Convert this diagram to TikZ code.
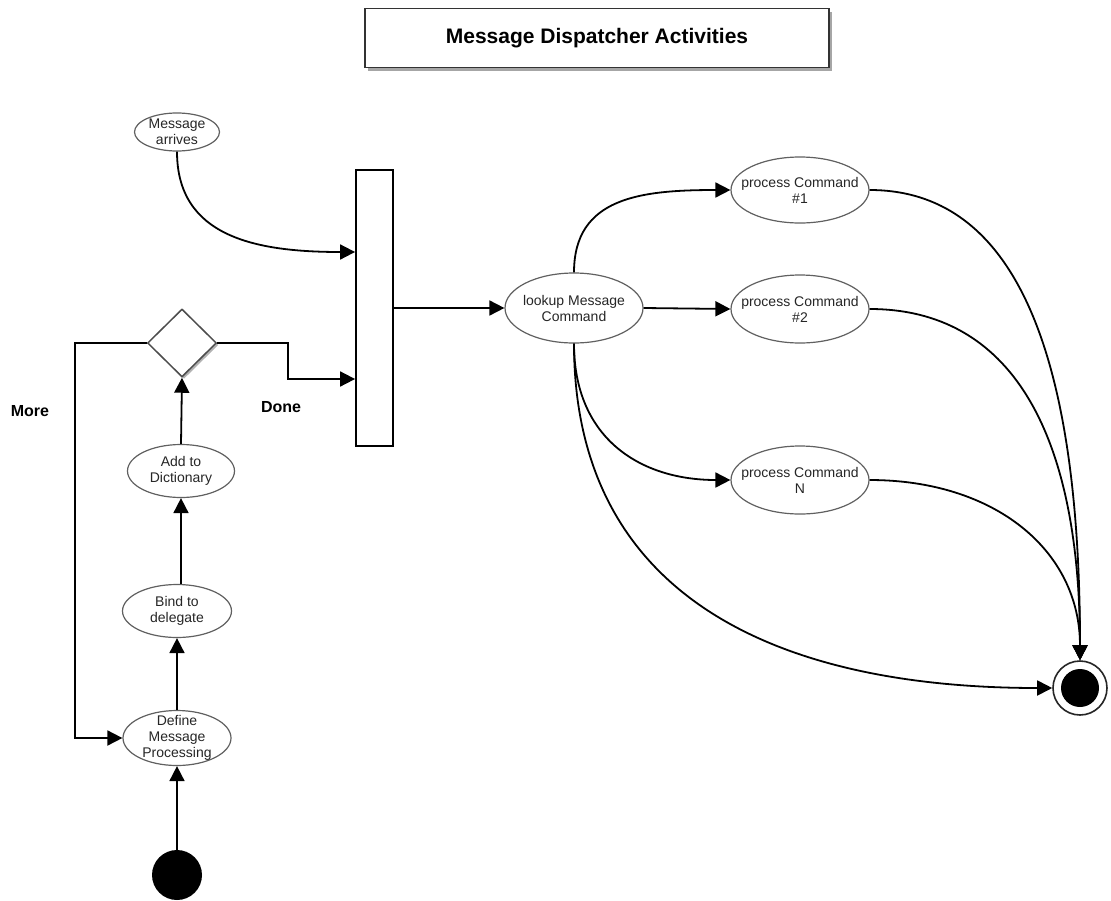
\documentclass[tikz,border=0pt]{standalone}
\usepackage{fontspec}
\setmainfont{Liberation Sans}
\usetikzlibrary{arrows.meta,shapes.geometric,shadows}
\begin{document}
\begin{tikzpicture}[x=1pt,y=-1pt,
  act/.style={ellipse, draw=gray!75!black, line width=1.2pt, fill=white, inner sep=0pt},
  txt/.style={font=\fontsize{14}{16}\selectfont, align=center, text=black!85},
  arr/.style={line width=1.8pt, -{Triangle[length=15pt,width=15pt]}},
  lbl/.style={font=\fontsize{16}{19}\selectfont\bfseries}]
\useasboundingbox (0,0) rectangle (1111,900);

\node[draw=black!80, line width=1.5pt, fill=white, minimum width=464pt, minimum height=59pt,
  drop shadow={shadow xshift=3pt,shadow yshift=-3pt,fill=gray!70,opacity=1},
  font=\fontsize{21}{25}\selectfont\bfseries] (title) at (597,38) {Message Dispatcher Activities};

\node[act, minimum width=85pt, minimum height=38pt, label={[txt]center:Message\\arrives}] (msg) at (177,132) {};
\node[draw, line width=1.8pt, fill=white, minimum width=37pt, minimum height=276pt, inner sep=0pt] (bar) at (374.5,308) {};
\node[diamond, draw=black!70, line width=1.5pt, fill=white, minimum width=69pt, minimum height=68pt, inner sep=0pt, aspect=1,
  drop shadow={shadow xshift=2pt,shadow yshift=-2pt,fill=gray!60,opacity=1}] (dia) at (182,343) {};

\node[act, minimum width=107pt, minimum height=53pt, label={[txt]center:Add to\\Dictionary}] (add) at (181,471) {};
\node[act, minimum width=109pt, minimum height=53pt, label={[txt]center:Bind to\\delegate}] (bind) at (177,611) {};
\node[act, minimum width=108pt, minimum height=55pt, label={[txt]center:Define\\Message\\Processing}] (def) at (177,738) {};
\node[circle, fill=black, minimum size=50pt, inner sep=0pt] (start) at (177,875) {};

\node[act, minimum width=138pt, minimum height=70pt, label={[txt]center:lookup Message\\Command}] (lookup) at (574,308) {};
\node[act, minimum width=138pt, minimum height=66pt, label={[txt]center:process Command\\\#1}] (p1) at (800,190) {};
\node[act, minimum width=138pt, minimum height=68pt, label={[txt]center:process Command\\\#2}] (p2) at (800,309) {};
\node[act, minimum width=138pt, minimum height=68pt, label={[txt]center:process Command\\N}] (pN) at (800,480) {};

\node[circle, draw=black!85, line width=1.6pt, fill=white, minimum size=54pt, inner sep=0pt] (end) at (1080,688) {};
\node[circle, fill=black, minimum size=38pt, inner sep=0pt] (endin) at (end) {};

\node[lbl] (more) at (30,411) {More};
\node[lbl] (done) at (281,407) {Done};

\draw[arr] (start) -- (def);
\draw[arr] (def) -- (bind);
\draw[arr] (add.south |- bind.north) -- (add.south);
\draw[arr] (add.north) -- (dia.south);
\draw[arr] (dia.west) -- ++(-72,0) |- (def.west);
\draw[arr] (dia.east) -- ++(71,0) |- ([yshift=-71pt]bar.west);
\draw[arr] (msg.south) .. controls +(0,85) and +(-100,0) .. ([yshift=56pt]bar.west);
\draw[arr] (bar.east) -- (lookup.west);
\draw[arr] (lookup.north) .. controls +(0,-75) and +(-90,0) .. (p1.west);
\draw[arr] (lookup.east) -- (p2.west);
\draw[arr] (lookup.south) .. controls +(0,95) and +(-90,0) .. (pN.west);
\draw[arr] (lookup.south) .. controls +(0,250) and +(-280,0) .. (end.west);
\draw[arr] (p1.east) .. controls +(140,0) and +(0,-320) .. (end.north);
\draw[arr] (p2.east) .. controls +(140,0) and +(0,-230) .. (end.north);
\draw[arr] (pN.east) .. controls +(125,0) and +(0,-110) .. (end.north);
\end{tikzpicture}
\end{document}
